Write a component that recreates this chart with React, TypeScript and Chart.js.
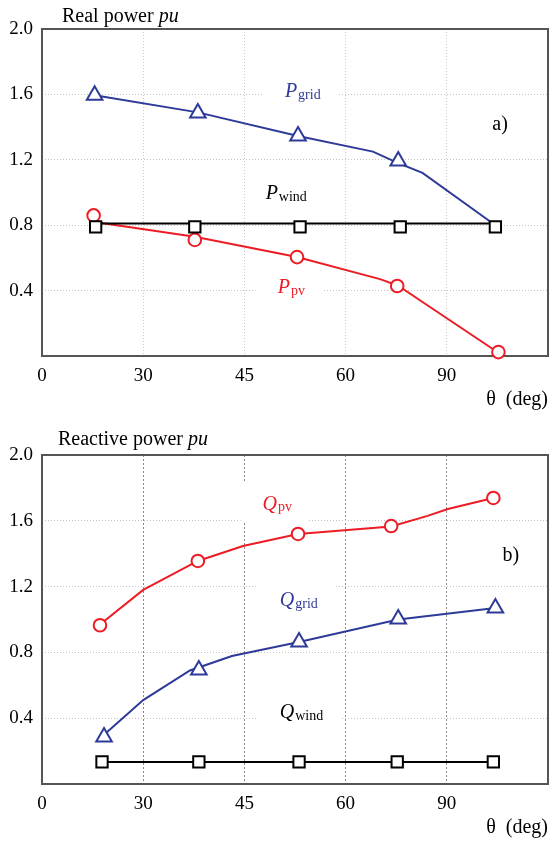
import React, { useEffect, useRef } from 'react';
import { Chart, registerables } from 'chart.js';

Chart.register(...registerables);

// ---------- shared axis data ----------
const xTickLabels = ['0', '30', '45', '60', '90'];
const yMin = 0;
const yMax = 2.0;
const yStep = 0.4;

// ---------- panel a) Real power ----------
const pGridLineX = [0.52, 1.54, 2.53, 3.27, 3.52, 3.76, 4.48];
const pGridLineY = [1.595, 1.49, 1.345, 1.25, 1.18, 1.12, 0.8];
const pGridMarkX = [0.52, 1.54, 2.53, 3.52];
const pGridMarkY = [1.595, 1.486, 1.346, 1.193];

const pPvLineX = [0.52, 1.51, 2.52, 3.34, 3.52, 3.76, 4.51];
const pPvLineY = [0.82, 0.73, 0.605, 0.47, 0.43, 0.33, 0.02];
const pPvMarkX = [0.51, 1.51, 2.52, 3.51, 4.51];
const pPvMarkY = [0.86, 0.71, 0.605, 0.428, 0.024];

const pWindLineX = [0.53, 4.48];
const pWindLineY = [0.81, 0.81];
const pWindMarkX = [0.53, 1.51, 2.55, 3.54, 4.48];
const pWindMarkY = [0.79, 0.79, 0.79, 0.79, 0.79];

// ---------- panel b) Reactive power ----------
const qPvLineX = [0.573, 1.0, 1.54, 1.986, 2.53, 3.45, 3.81, 4.01, 4.46];
const qPvLineY = [0.97, 1.18, 1.356, 1.447, 1.52, 1.565, 1.63, 1.672, 1.739];
const qPvMarkX = [0.573, 1.54, 2.53, 3.45, 4.46];
const qPvMarkY = [0.965, 1.356, 1.52, 1.568, 1.739];

const qGridLineX = [0.613, 1.0, 1.462, 1.877, 2.54, 3.52, 4.48];
const qGridLineY = [0.3, 0.51, 0.69, 0.778, 0.863, 1.0, 1.07];
const qGridMarkX = [0.613, 1.55, 2.54, 3.52, 4.48];
const qGridMarkY = [0.285, 0.693, 0.863, 1.003, 1.07];

const qWindLineX = [0.593, 4.46];
const qWindLineY = [0.134, 0.134];
const qWindMarkX = [0.593, 1.55, 2.54, 3.51, 4.46];
const qWindMarkY = [0.134, 0.134, 0.134, 0.134, 0.134];

// ---------- colours / fonts ----------
const BLUE = '#2e3a98';
const RED = '#ec1c24';
const BLACK = '#000000';
const SERIF = '"Liberation Serif", "Times New Roman", serif';

type Lbl = { x: number; y: number; main: string; sub?: string; color: string; italic?: boolean; box?: boolean };
type TitleSpec = { plain: string; ital: string; dx: number; dy: number };

const labelsA: Lbl[] = [
  { x: 2.40, y: 1.584, main: 'P', sub: 'grid', color: BLUE, italic: true, box: true },
  { x: 2.21, y: 0.96, main: 'P', sub: 'wind', color: BLACK, italic: true },
  { x: 2.33, y: 0.385, main: 'P', sub: 'pv', color: RED, italic: true, box: true },
  { x: 4.45, y: 1.382, main: 'a)', color: BLACK },
];
const labelsB: Lbl[] = [
  { x: 2.18, y: 1.666, main: 'Q', sub: 'pv', color: RED, italic: true, box: true },
  { x: 2.35, y: 1.082, main: 'Q', sub: 'grid', color: BLUE, italic: true, box: true },
  { x: 2.35, y: 0.40, main: 'Q', sub: 'wind', color: BLACK, italic: true, box: true },
  { x: 4.55, y: 1.356, main: 'b)', color: BLACK },
];

const pts = (xs: number[], ys: number[]) => xs.map((x, i) => ({ x, y: ys[i] }));

function lineDs(xs: number[], ys: number[], color: string) {
  return {
    data: pts(xs, ys),
    showLine: true,
    borderColor: color,
    backgroundColor: color,
    borderWidth: 2,
    pointRadius: 0,
    tension: 0,
    clip: false as any,
  };
}
function markDs(xs: number[], ys: number[], color: string, style: string, r: number) {
  return {
    data: pts(xs, ys),
    showLine: false,
    pointStyle: style,
    pointRadius: r,
    pointBorderWidth: 2,
    pointBorderColor: color,
    pointBackgroundColor: '#ffffff',
    borderColor: color,
    backgroundColor: '#ffffff',
    clip: false as any,
  };
}

function mainFont(l: Lbl) {
  return `${l.italic ? 'italic ' : ''}20px ${SERIF}`;
}
const SUB_FONT = `14px ${SERIF}`;

function makeAnnot(labels: Lbl[], title: TitleSpec) {
  return {
    id: 'annot',
    beforeDatasetsDraw(chart: any) {
      const { ctx, chartArea: a, scales } = chart;
      ctx.save();
      for (const l of labels) {
        if (!l.box) continue;
        ctx.font = mainFont(l);
        let w = ctx.measureText(l.main).width;
        if (l.sub) {
          ctx.font = SUB_FONT;
          w += ctx.measureText(l.sub).width + 1;
        }
        const px = scales.x.getPixelForValue(l.x);
        const py = scales.y.getPixelForValue(l.y);
        ctx.fillStyle = '#ffffff';
        ctx.fillRect(px - 22, py - 27, w + 39, 40);
      }
      ctx.strokeStyle = '#555555';
      ctx.lineWidth = 2;
      ctx.strokeRect(a.left, a.top, a.right - a.left, a.bottom - a.top);
      ctx.restore();
    },
    afterDatasetsDraw(chart: any) {
      const { ctx, scales } = chart;
      ctx.save();
      ctx.textBaseline = 'alphabetic';
      ctx.textAlign = 'left';
      for (const l of labels) {
        const px = scales.x.getPixelForValue(l.x);
        const py = scales.y.getPixelForValue(l.y);
        ctx.fillStyle = l.color;
        ctx.font = mainFont(l);
        ctx.fillText(l.main, px, py);
        if (l.sub) {
          const w = ctx.measureText(l.main).width;
          ctx.font = SUB_FONT;
          ctx.fillText(l.sub, px + w + 1, py + 1.5);
        }
      }
      ctx.restore();
    },
    afterDraw(chart: any) {
      const { ctx, chartArea: a } = chart;
      ctx.save();
      ctx.textBaseline = 'alphabetic';
      ctx.textAlign = 'left';
      ctx.fillStyle = '#000000';
      ctx.font = `20px ${SERIF}`;
      const x0 = a.left + title.dx;
      const y0 = a.top + title.dy;
      ctx.fillText(title.plain, x0, y0);
      const w = ctx.measureText(title.plain).width;
      ctx.font = `italic 20px ${SERIF}`;
      ctx.fillText(title.ital, x0 + w, y0);
      ctx.restore();
    },
  };
}

function makeConfig(
  datasets: any[],
  labels: Lbl[],
  title: TitleSpec,
  padTop: number,
  xAxisH: number,
  padBottom: number,
  vGridColor: string,
  vGridDash: number[]
) {
  return {
    type: 'scatter' as const,
    data: { datasets },
    options: {
      animation: false as const,
      responsive: false,
      maintainAspectRatio: false,
      events: [] as any[],
      layout: { autoPadding: false, padding: { top: padTop, right: 1, left: 0, bottom: padBottom } },
      plugins: { legend: { display: false }, tooltip: { enabled: false }, title: { display: false } },
      scales: {
        x: {
          type: 'linear' as const,
          min: 0,
          max: 5,
          afterFit: (s: any) => {
            s.height = xAxisH;
            s.paddingLeft = 0;
            s.paddingRight = 0;
          },
          ticks: {
            stepSize: 1,
            autoSkip: false,
            maxRotation: 0,
            padding: 9,
            color: '#000',
            font: { family: SERIF, size: 19 },
            callback: (v: any) => xTickLabels[v as number] ?? '',
          },
          grid: { color: vGridColor, drawTicks: false, lineWidth: 1 },
          border: { display: false, dash: vGridDash },
          title: {
            display: true,
            text: 'θ  (deg)',
            align: 'end' as const,
            color: '#000',
            font: { family: SERIF, size: 20, lineHeight: 1 },
            padding: { top: 0, bottom: 0 },
          },
        },
        y: {
          type: 'linear' as const,
          min: yMin,
          max: yMax,
          afterFit: (s: any) => {
            s.width = 42;
            s.paddingTop = 0;
            s.paddingBottom = 0;
          },
          ticks: {
            stepSize: yStep,
            padding: 9,
            color: '#000',
            font: { family: SERIF, size: 19 },
            callback: (v: any) => (Math.abs(v) < 1e-9 ? '' : Number(v).toFixed(1)),
          },
          grid: { color: '#c4c4c4', drawTicks: false, lineWidth: 1 },
          border: { display: false, dash: [1, 2] },
        },
      },
    },
    plugins: [makeAnnot(labels, title)],
  };
}

export default function App() {
  const refA = useRef<HTMLCanvasElement>(null);
  const refB = useRef<HTMLCanvasElement>(null);

  useEffect(() => {
    const dsA = [
      markDs(pWindMarkX, pWindMarkY, BLACK, 'rect', 8),
      markDs(pGridMarkX, pGridMarkY, BLUE, 'triangle', 9),
      markDs(pPvMarkX, pPvMarkY, RED, 'circle', 6.3),
      lineDs(pWindLineX, pWindLineY, BLACK),
      lineDs(pGridLineX, pGridLineY, BLUE),
      lineDs(pPvLineX, pPvLineY, RED),
    ];
    const dsB = [
      markDs(qWindMarkX, qWindMarkY, BLACK, 'rect', 8),
      markDs(qGridMarkX, qGridMarkY, BLUE, 'triangle', 9),
      markDs(qPvMarkX, qPvMarkY, RED, 'circle', 6.3),
      lineDs(qWindLineX, qWindLineY, BLACK),
      lineDs(qGridLineX, qGridLineY, BLUE),
      lineDs(qPvLineX, qPvLineY, RED),
    ];
    const cA = new Chart(
      refA.current as HTMLCanvasElement,
      makeConfig(dsA, labelsA, { plain: 'Real power ', ital: 'pu', dx: 20, dy: -7 }, 29, 54, 0, '#c8c8c8', [1, 2]) as any
    );
    const cB = new Chart(
      refB.current as HTMLCanvasElement,
      makeConfig(dsB, labelsB, { plain: 'Reactive power ', ital: 'pu', dx: 16, dy: -10 }, 45, 54, 3, '#8a8a8a', [2, 2]) as any
    );
    return () => {
      cA.destroy();
      cB.destroy();
    };
  }, []);

  return (
    <div style={{ position: 'absolute', left: 0, top: 0, width: 549, height: 841, background: '#fff' }}>
      <canvas ref={refA} width={549} height={410} style={{ position: 'absolute', left: 0, top: 0, width: 549, height: 410 }} />
      <canvas ref={refB} width={549} height={431} style={{ position: 'absolute', left: 0, top: 410, width: 549, height: 431 }} />
    </div>
  );
}
